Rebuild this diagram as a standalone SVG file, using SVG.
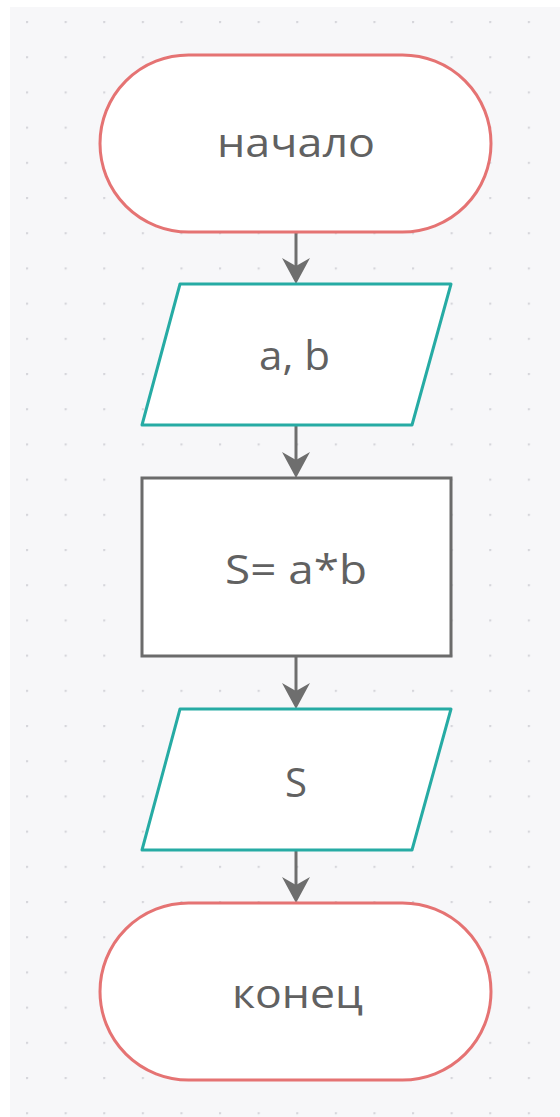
<svg xmlns="http://www.w3.org/2000/svg" width="560" height="1117" viewBox="0 0 560 1117">
<style>
.term{fill:#ffffff;stroke:#e57373;stroke-width:3}
.io{fill:#ffffff;stroke:#26aba4;stroke-width:3;stroke-linejoin:round}
.proc{fill:#ffffff;stroke:#6b6b6b;stroke-width:3}
.lbl{font-family:"Open Sans","Noto Sans",sans-serif;font-size:40px;fill:#616161;text-anchor:middle}
.conn{stroke:#6e6e6e;stroke-width:3;fill:none}
.head{fill:#6e6e6e}
</style>
<defs>
<pattern id="dots" x="26" y="21" width="38.6" height="35.2" patternUnits="userSpaceOnUse">
<circle cx="1" cy="1" r="1.3" fill="#d6d6db"/>
</pattern>
</defs>
<rect x="0" y="0" width="560" height="1117" fill="#ffffff"/>
<rect x="10" y="7" width="550" height="1110" fill="#f7f7f9"/>
<rect x="10" y="7" width="550" height="1110" fill="url(#dots)"/>
<g id="connectors">
<line class="conn" x1="296" y1="232" x2="296" y2="270"/>
<path class="head" d="M282,258 L296,266 L310,258 L296,284 Z"/>
<line class="conn" x1="296" y1="425" x2="296" y2="464"/>
<path class="head" d="M282,452 L296,460 L310,452 L296,478 Z"/>
<line class="conn" x1="296" y1="656" x2="296" y2="695"/>
<path class="head" d="M282,683 L296,691 L310,683 L296,709 Z"/>
<line class="conn" x1="296" y1="850" x2="296" y2="889"/>
<path class="head" d="M282,877 L296,885 L310,877 L296,903 Z"/>
</g>
<g id="start">
<rect class="term" x="100" y="55" width="391" height="177" rx="88.5" ry="88.5"/>
<text class="lbl" x="296" y="157" textLength="158" lengthAdjust="spacingAndGlyphs">начало</text>
</g>
<g id="input">
<polygon class="io" points="180,284 451,284 412,425 142,425"/>
<text class="lbl" x="294.5" y="370" textLength="71" lengthAdjust="spacingAndGlyphs">a, b</text>
</g>
<g id="process">
<rect class="proc" x="142" y="478" width="309" height="178"/>
<text class="lbl" x="296" y="584" textLength="142" lengthAdjust="spacingAndGlyphs">S= a*b</text>
</g>
<g id="output">
<polygon class="io" points="180,709 451,709 412,850 142,850"/>
<text class="lbl" x="296" y="797" textLength="22" lengthAdjust="spacingAndGlyphs">S</text>
</g>
<g id="end">
<rect class="term" x="100" y="903" width="391" height="177" rx="88.5" ry="88.5"/>
<text class="lbl" x="297.5" y="1008" textLength="131" lengthAdjust="spacingAndGlyphs">конец</text>
</g>
</svg>
